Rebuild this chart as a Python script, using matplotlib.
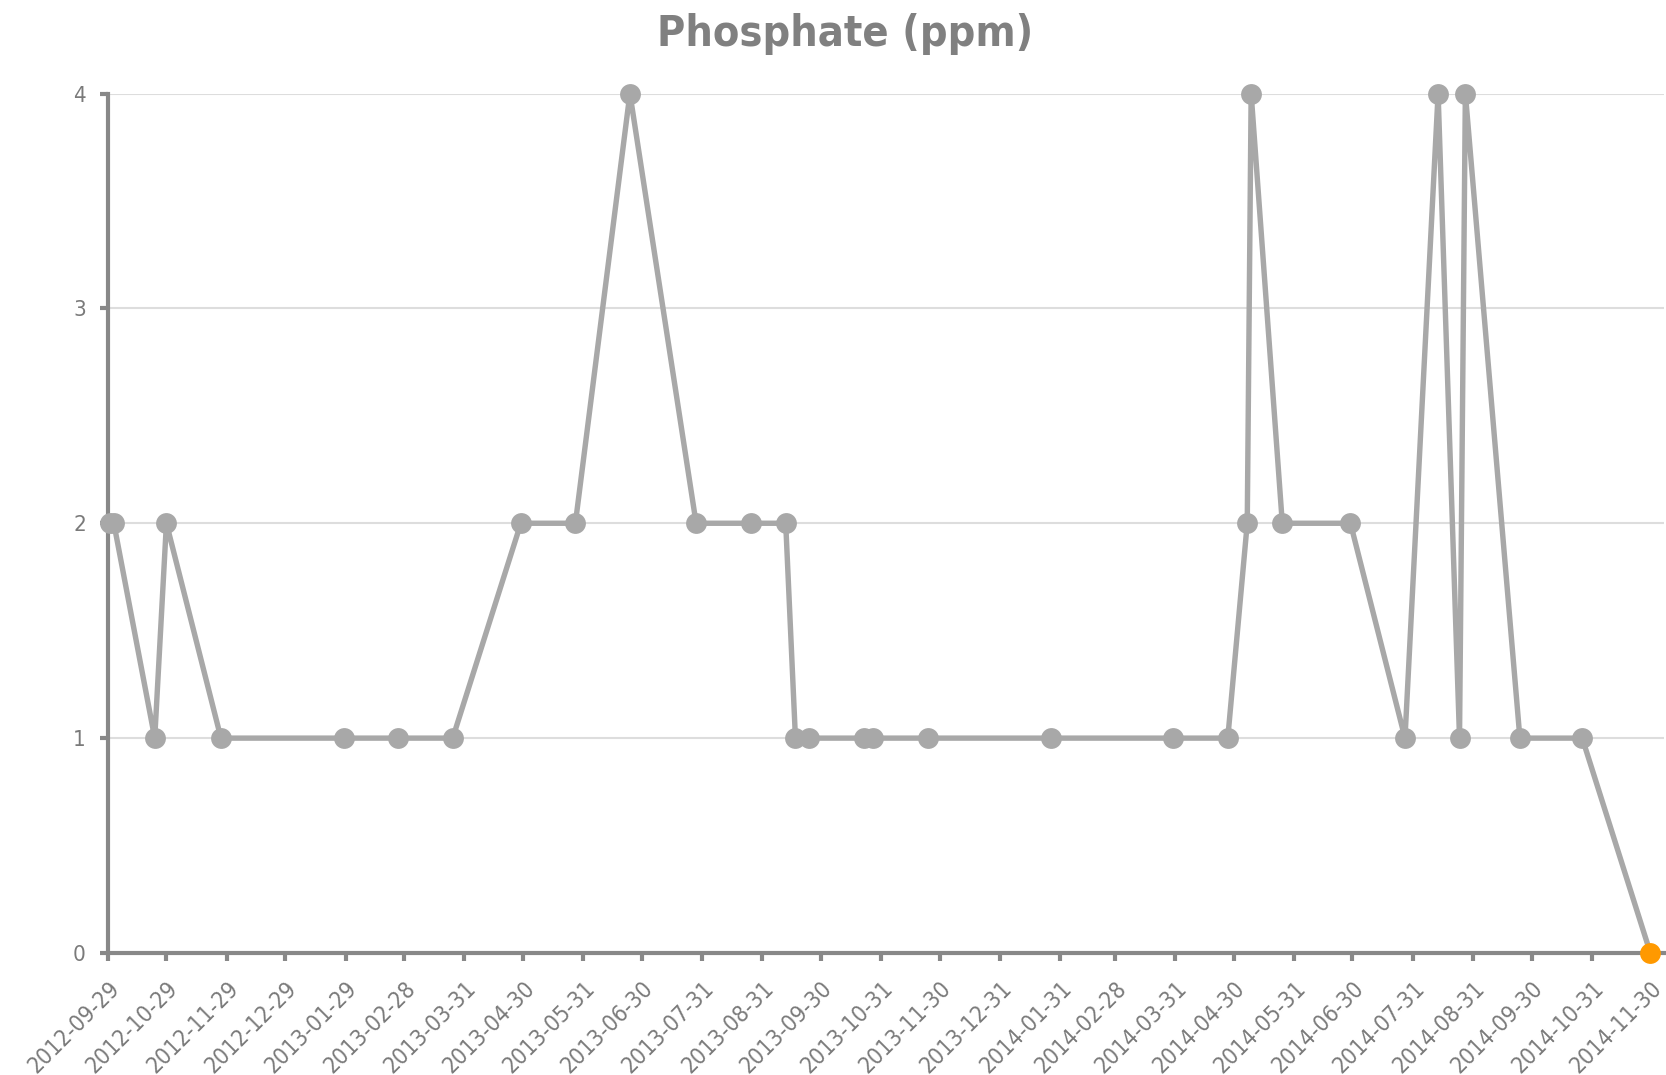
import matplotlib
matplotlib.use("Agg")
import matplotlib.pyplot as plt
import pandas as pd

dates = ["2012-09-30", "2012-10-02", "2012-10-23", "2012-10-29", "2012-11-26",
         "2013-01-28", "2013-02-25", "2013-03-25", "2013-04-29", "2013-05-27",
         "2013-06-24", "2013-07-28", "2013-08-25", "2013-09-12", "2013-09-17",
         "2013-09-24", "2013-10-22", "2013-10-27", "2013-11-24", "2014-01-26",
         "2014-03-30", "2014-04-27", "2014-05-07", "2014-05-09", "2014-05-25",
         "2014-06-29", "2014-07-27", "2014-08-13", "2014-08-24", "2014-08-27",
         "2014-09-24", "2014-10-26", "2014-11-30"]
values = [2, 2, 1, 2, 1,
          1, 1, 1, 2, 2,
          4, 2, 2, 2, 1,
          1, 1, 1, 1, 1,
          1, 1, 2, 4, 2,
          2, 1, 4, 1, 4,
          1, 1, 0]
tick_dates = ["2012-09-29", "2012-10-29", "2012-11-29", "2012-12-29", "2013-01-29",
              "2013-02-28", "2013-03-31", "2013-04-30", "2013-05-31", "2013-06-30",
              "2013-07-31", "2013-08-31", "2013-09-30", "2013-10-31", "2013-11-30",
              "2013-12-31", "2014-01-31", "2014-02-28", "2014-03-31", "2014-04-30",
              "2014-05-31", "2014-06-30", "2014-07-31", "2014-08-31", "2014-09-30",
              "2014-10-31", "2014-11-30"]
y_ticks = [0, 1, 2, 3, 4]
title = "Phosphate (ppm)"

plt.rcParams["font.family"] = ["DejaVu Sans"]
plt.rcParams["font.stretch"] = "condensed"

x = pd.to_datetime(dates)
xt = pd.to_datetime(tick_dates)

W, H = 1666, 1075
fig = plt.figure(figsize=(W / 100, H / 100), dpi=100)
ax = fig.add_axes([108 / W, 1 - 953 / H, (1664 - 108) / W, (953 - 93.5) / H])

line_c = "#a8a8a8"
ax.plot(x, values, color=line_c, lw=3.9, zorder=3, clip_on=False)
ax.plot(x[:-1], values[:-1], "o", color=line_c, ms=15, mec="none", zorder=4, clip_on=False)
ax.plot(x[-1:], values[-1:], "o", color="#ff9900", ms=15, mec="none", zorder=5, clip_on=False)

ax.set_xlim(pd.Timestamp("2012-09-29"), pd.Timestamp("2012-09-29") + pd.Timedelta(days=799))
ax.set_ylim(0, 4)

ax.set_yticks(y_ticks)
ax.set_yticklabels([str(v) for v in y_ticks])
ax.set_xticks(xt)
ax.set_xticklabels(tick_dates, rotation=45, ha="right", va="top", rotation_mode="anchor")

ax.grid(axis="y", color="#dddddd", lw=1.5, zorder=0)
ax.grid(axis="x", visible=False)
for s in ["top", "right"]:
    ax.spines[s].set_visible(False)
for s in ["left", "bottom"]:
    ax.spines[s].set_color("#888888")
    ax.spines[s].set_linewidth(3)
    ax.spines[s].set_zorder(2)
ax.tick_params(axis="both", colors="#888888", width=3, length=6, direction="out")
ax.tick_params(axis="x", labelsize=16.5, labelcolor="#7a7a7a", pad=11)
ax.tick_params(axis="y", labelsize=16, labelcolor="#7a7a7a", pad=10)

fig.text(845 / W, 1 - 34 / H, title, ha="center", va="center",
         fontsize=31, fontweight="bold", color="#808080")

fig.savefig("out.png", dpi=100)
